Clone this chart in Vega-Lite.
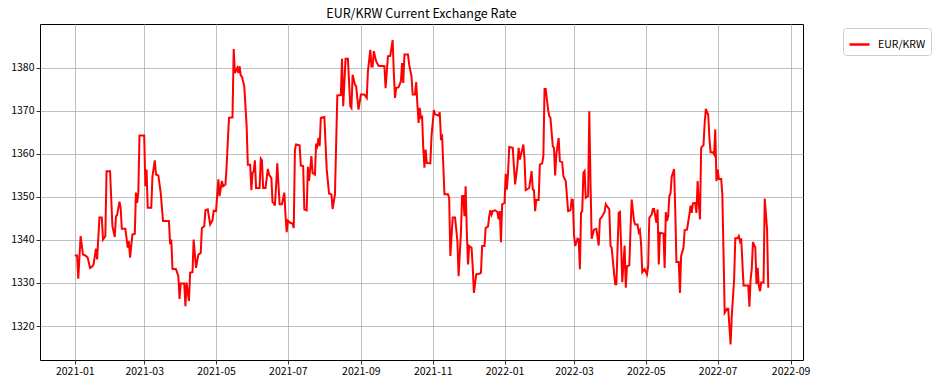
{
  "$schema": "https://vega.github.io/schema/vega-lite/v6.json",
  "width": 763,
  "height": 336,
  "autosize": {"type": "none"},
  "padding": {"left": 40, "top": 24, "right": 135, "bottom": 26},
  "background": "white",
  "title": {"text": "EUR/KRW Current Exchange Rate", "font": "Noto Sans CJK KR", "fontSize": 12.5, "fontWeight": "normal", "color": "black", "anchor": "middle", "offset": 4},
  "config": {
    "view": {"stroke": "black", "strokeWidth": 1},
    "axis": {"domain": false, "grid": true, "gridColor": "#b0b0b0", "gridWidth": 0.8, "tickColor": "black", "tickSize": 4, "tickWidth": 0.8, "labelFont": "Noto Sans CJK KR", "labelFontSize": 10.5, "labelColor": "black", "labelPadding": 2, "title": null}
  },
  "data": {"values": [
{"date":"2021-01-01","rate":1336.4},{"date":"2021-01-03","rate":1336.4},{"date":"2021-01-04","rate":1331.0},{"date":"2021-01-06","rate":1340.9},{"date":"2021-01-08","rate":1336.6},{"date":"2021-01-10","rate":1336.4},{"date":"2021-01-12","rate":1335.9},{"date":"2021-01-14","rate":1333.5},{"date":"2021-01-16","rate":1333.9},{"date":"2021-01-17","rate":1334.3},{"date":"2021-01-19","rate":1338.0},{"date":"2021-01-20","rate":1335.5},{"date":"2021-01-22","rate":1345.2},{"date":"2021-01-24","rate":1345.2},{"date":"2021-01-25","rate":1340.1},{"date":"2021-01-27","rate":1340.9},{"date":"2021-01-28","rate":1356.0},{"date":"2021-01-31","rate":1356.0},
{"date":"2021-02-02","rate":1343.2},{"date":"2021-02-04","rate":1340.7},{"date":"2021-02-05","rate":1345.5},{"date":"2021-02-06","rate":1345.8},{"date":"2021-02-08","rate":1348.9},{"date":"2021-02-09","rate":1347.5},{"date":"2021-02-10","rate":1342.6},{"date":"2021-02-13","rate":1342.6},{"date":"2021-02-15","rate":1338.2},{"date":"2021-02-16","rate":1339.7},{"date":"2021-02-17","rate":1335.9},{"date":"2021-02-19","rate":1341.3},{"date":"2021-02-21","rate":1341.4},{"date":"2021-02-22","rate":1351.0},{"date":"2021-02-23","rate":1348.6},{"date":"2021-02-24","rate":1351.0},{"date":"2021-02-25","rate":1364.3},
{"date":"2021-03-01","rate":1364.3},{"date":"2021-03-02","rate":1352.5},{"date":"2021-03-03","rate":1356.4},{"date":"2021-03-04","rate":1347.5},{"date":"2021-03-07","rate":1347.5},{"date":"2021-03-08","rate":1354.8},{"date":"2021-03-10","rate":1358.5},{"date":"2021-03-11","rate":1355.2},{"date":"2021-03-13","rate":1355.0},{"date":"2021-03-15","rate":1351.0},{"date":"2021-03-17","rate":1344.4},{"date":"2021-03-19","rate":1344.4},{"date":"2021-03-22","rate":1344.4},{"date":"2021-03-23","rate":1339.0},{"date":"2021-03-24","rate":1340.1},{"date":"2021-03-25","rate":1333.3},{"date":"2021-03-28","rate":1333.2},{"date":"2021-03-30","rate":1331.6},{"date":"2021-03-31","rate":1326.3},
{"date":"2021-04-01","rate":1329.9},{"date":"2021-04-04","rate":1329.9},{"date":"2021-04-05","rate":1324.6},{"date":"2021-04-06","rate":1330.1},{"date":"2021-04-08","rate":1325.8},{"date":"2021-04-09","rate":1332.4},{"date":"2021-04-11","rate":1332.5},{"date":"2021-04-12","rate":1340.1},{"date":"2021-04-14","rate":1333.5},{"date":"2021-04-16","rate":1336.6},{"date":"2021-04-18","rate":1337.0},{"date":"2021-04-19","rate":1342.8},{"date":"2021-04-21","rate":1343.2},{"date":"2021-04-22","rate":1346.9},{"date":"2021-04-24","rate":1347.1},{"date":"2021-04-26","rate":1343.6},{"date":"2021-04-28","rate":1344.6},{"date":"2021-04-29","rate":1346.8},
{"date":"2021-05-01","rate":1346.7},{"date":"2021-05-03","rate":1354.1},{"date":"2021-05-04","rate":1350.2},{"date":"2021-05-06","rate":1353.7},{"date":"2021-05-07","rate":1352.5},{"date":"2021-05-09","rate":1352.9},{"date":"2021-05-10","rate":1357.2},{"date":"2021-05-12","rate":1368.4},{"date":"2021-05-15","rate":1368.5},{"date":"2021-05-16","rate":1384.4},{"date":"2021-05-17","rate":1378.8},{"date":"2021-05-19","rate":1380.0},{"date":"2021-05-20","rate":1378.8},{"date":"2021-05-21","rate":1380.4},{"date":"2021-05-22","rate":1378.2},{"date":"2021-05-23","rate":1378.0},{"date":"2021-05-25","rate":1375.7},{"date":"2021-05-27","rate":1366.4},{"date":"2021-05-28","rate":1357.5},{"date":"2021-05-30","rate":1357.5},{"date":"2021-05-31","rate":1351.6},
{"date":"2021-06-01","rate":1355.6},{"date":"2021-06-02","rate":1356.0},{"date":"2021-06-03","rate":1358.5},{"date":"2021-06-04","rate":1352.1},{"date":"2021-06-07","rate":1352.1},{"date":"2021-06-08","rate":1358.9},{"date":"2021-06-09","rate":1358.5},{"date":"2021-06-10","rate":1352.1},{"date":"2021-06-12","rate":1352.1},{"date":"2021-06-14","rate":1356.5},{"date":"2021-06-15","rate":1355.2},{"date":"2021-06-17","rate":1354.4},{"date":"2021-06-18","rate":1348.8},{"date":"2021-06-19","rate":1348.6},{"date":"2021-06-20","rate":1348.0},{"date":"2021-06-21","rate":1352.5},{"date":"2021-06-22","rate":1357.8},{"date":"2021-06-24","rate":1348.3},{"date":"2021-06-26","rate":1348.3},{"date":"2021-06-28","rate":1351.0},{"date":"2021-06-29","rate":1345.7},{"date":"2021-06-30","rate":1341.8},
{"date":"2021-07-01","rate":1344.5},{"date":"2021-07-03","rate":1344.0},{"date":"2021-07-05","rate":1343.8},{"date":"2021-07-06","rate":1342.8},{"date":"2021-07-07","rate":1361.0},{"date":"2021-07-08","rate":1362.2},{"date":"2021-07-11","rate":1362.0},{"date":"2021-07-12","rate":1357.3},{"date":"2021-07-14","rate":1357.2},{"date":"2021-07-15","rate":1347.1},{"date":"2021-07-17","rate":1346.9},{"date":"2021-07-18","rate":1357.0},{"date":"2021-07-19","rate":1353.7},{"date":"2021-07-21","rate":1359.5},{"date":"2021-07-22","rate":1355.6},{"date":"2021-07-24","rate":1355.2},{"date":"2021-07-25","rate":1362.4},{"date":"2021-07-26","rate":1361.8},{"date":"2021-07-27","rate":1363.7},{"date":"2021-07-28","rate":1361.8},{"date":"2021-07-29","rate":1368.4},
{"date":"2021-08-01","rate":1368.6},{"date":"2021-08-03","rate":1356.4},{"date":"2021-08-05","rate":1350.8},{"date":"2021-08-07","rate":1350.6},{"date":"2021-08-08","rate":1347.2},{"date":"2021-08-10","rate":1350.6},{"date":"2021-08-12","rate":1373.6},{"date":"2021-08-15","rate":1373.7},{"date":"2021-08-16","rate":1382.1},{"date":"2021-08-17","rate":1371.1},{"date":"2021-08-19","rate":1382.1},{"date":"2021-08-21","rate":1382.1},{"date":"2021-08-23","rate":1371.1},{"date":"2021-08-24","rate":1370.7},{"date":"2021-08-25","rate":1378.4},{"date":"2021-08-27","rate":1376.1},{"date":"2021-08-28","rate":1375.7},{"date":"2021-08-30","rate":1370.3},
{"date":"2021-09-01","rate":1373.8},{"date":"2021-09-04","rate":1373.8},{"date":"2021-09-06","rate":1373.0},{"date":"2021-09-07","rate":1379.2},{"date":"2021-09-09","rate":1384.2},{"date":"2021-09-10","rate":1380.3},{"date":"2021-09-11","rate":1380.3},{"date":"2021-09-12","rate":1383.9},{"date":"2021-09-14","rate":1381.5},{"date":"2021-09-16","rate":1380.5},{"date":"2021-09-21","rate":1380.4},{"date":"2021-09-22","rate":1375.3},{"date":"2021-09-24","rate":1382.7},{"date":"2021-09-26","rate":1382.8},{"date":"2021-09-28","rate":1386.5},{"date":"2021-09-29","rate":1378.8},{"date":"2021-09-30","rate":1373.0},
{"date":"2021-10-01","rate":1375.3},{"date":"2021-10-03","rate":1375.5},{"date":"2021-10-05","rate":1376.9},{"date":"2021-10-06","rate":1381.1},{"date":"2021-10-07","rate":1376.5},{"date":"2021-10-08","rate":1383.1},{"date":"2021-10-11","rate":1383.1},{"date":"2021-10-12","rate":1380.8},{"date":"2021-10-14","rate":1378.0},{"date":"2021-10-15","rate":1373.8},{"date":"2021-10-17","rate":1373.8},{"date":"2021-10-18","rate":1376.7},{"date":"2021-10-19","rate":1371.5},{"date":"2021-10-20","rate":1367.2},{"date":"2021-10-21","rate":1370.7},{"date":"2021-10-22","rate":1368.4},{"date":"2021-10-23","rate":1368.6},{"date":"2021-10-24","rate":1361.4},{"date":"2021-10-25","rate":1356.8},{"date":"2021-10-26","rate":1361.0},{"date":"2021-10-27","rate":1357.9},{"date":"2021-10-30","rate":1357.8},{"date":"2021-10-31","rate":1364.1},
{"date":"2021-11-02","rate":1370.2},{"date":"2021-11-03","rate":1369.2},{"date":"2021-11-06","rate":1368.9},{"date":"2021-11-07","rate":1369.7},{"date":"2021-11-08","rate":1363.7},{"date":"2021-11-09","rate":1364.1},{"date":"2021-11-11","rate":1350.6},{"date":"2021-11-14","rate":1350.6},{"date":"2021-11-15","rate":1349.8},{"date":"2021-11-16","rate":1336.3},{"date":"2021-11-18","rate":1345.2},{"date":"2021-11-20","rate":1345.2},{"date":"2021-11-22","rate":1339.7},{"date":"2021-11-23","rate":1331.6},{"date":"2021-11-25","rate":1341.7},{"date":"2021-11-26","rate":1350.2},{"date":"2021-11-27","rate":1350.2},{"date":"2021-11-28","rate":1345.5},{"date":"2021-11-29","rate":1352.5},{"date":"2021-11-30","rate":1341.7},
{"date":"2021-12-01","rate":1334.3},{"date":"2021-12-02","rate":1338.6},{"date":"2021-12-04","rate":1338.2},{"date":"2021-12-05","rate":1333.9},{"date":"2021-12-06","rate":1327.7},{"date":"2021-12-08","rate":1332.0},{"date":"2021-12-11","rate":1332.2},{"date":"2021-12-12","rate":1332.4},{"date":"2021-12-13","rate":1338.6},{"date":"2021-12-15","rate":1338.6},{"date":"2021-12-16","rate":1342.8},{"date":"2021-12-18","rate":1343.1},{"date":"2021-12-19","rate":1345.5},{"date":"2021-12-20","rate":1346.9},{"date":"2021-12-21","rate":1345.9},{"date":"2021-12-22","rate":1346.7},{"date":"2021-12-24","rate":1346.9},{"date":"2021-12-26","rate":1346.5},{"date":"2021-12-27","rate":1344.8},{"date":"2021-12-28","rate":1346.7},{"date":"2021-12-29","rate":1339.5},{"date":"2021-12-30","rate":1348.3},
{"date":"2022-01-01","rate":1348.6},{"date":"2022-01-02","rate":1355.4},{"date":"2022-01-03","rate":1351.7},{"date":"2022-01-04","rate":1355.6},{"date":"2022-01-05","rate":1361.6},{"date":"2022-01-08","rate":1361.4},{"date":"2022-01-10","rate":1352.9},{"date":"2022-01-12","rate":1357.5},{"date":"2022-01-13","rate":1361.4},{"date":"2022-01-14","rate":1358.7},{"date":"2022-01-16","rate":1361.0},{"date":"2022-01-17","rate":1362.2},{"date":"2022-01-18","rate":1358.7},{"date":"2022-01-19","rate":1351.6},{"date":"2022-01-21","rate":1351.9},{"date":"2022-01-22","rate":1352.1},{"date":"2022-01-24","rate":1356.0},{"date":"2022-01-25","rate":1351.7},{"date":"2022-01-26","rate":1351.6},{"date":"2022-01-27","rate":1346.7},{"date":"2022-01-28","rate":1349.3},{"date":"2022-01-30","rate":1349.3},{"date":"2022-01-31","rate":1357.5},
{"date":"2022-02-02","rate":1357.8},{"date":"2022-02-03","rate":1359.5},{"date":"2022-02-04","rate":1375.1},{"date":"2022-02-05","rate":1375.1},{"date":"2022-02-07","rate":1370.3},{"date":"2022-02-08","rate":1368.8},{"date":"2022-02-09","rate":1368.4},{"date":"2022-02-11","rate":1361.8},{"date":"2022-02-12","rate":1361.4},{"date":"2022-02-13","rate":1355.0},{"date":"2022-02-14","rate":1359.9},{"date":"2022-02-16","rate":1363.7},{"date":"2022-02-17","rate":1358.3},{"date":"2022-02-19","rate":1358.1},{"date":"2022-02-20","rate":1354.8},{"date":"2022-02-22","rate":1353.7},{"date":"2022-02-24","rate":1346.7},{"date":"2022-02-26","rate":1346.9},{"date":"2022-02-27","rate":1349.4},{"date":"2022-02-28","rate":1349.3},
{"date":"2022-03-01","rate":1341.3},{"date":"2022-03-02","rate":1338.6},{"date":"2022-03-04","rate":1340.3},{"date":"2022-03-05","rate":1340.1},{"date":"2022-03-06","rate":1333.2},{"date":"2022-03-07","rate":1346.3},{"date":"2022-03-08","rate":1346.7},{"date":"2022-03-09","rate":1355.6},{"date":"2022-03-10","rate":1356.0},{"date":"2022-03-11","rate":1349.8},{"date":"2022-03-13","rate":1350.2},{"date":"2022-03-14","rate":1369.9},{"date":"2022-03-15","rate":1354.1},{"date":"2022-03-16","rate":1340.3},{"date":"2022-03-18","rate":1342.4},{"date":"2022-03-20","rate":1342.6},{"date":"2022-03-22","rate":1338.7},{"date":"2022-03-23","rate":1344.8},{"date":"2022-03-25","rate":1345.5},{"date":"2022-03-27","rate":1346.5},{"date":"2022-03-28","rate":1348.3},{"date":"2022-03-29","rate":1347.9},{"date":"2022-03-31","rate":1347.1},
{"date":"2022-04-01","rate":1338.6},{"date":"2022-04-02","rate":1338.2},{"date":"2022-04-04","rate":1332.4},{"date":"2022-04-05","rate":1329.7},{"date":"2022-04-06","rate":1329.7},{"date":"2022-04-08","rate":1346.3},{"date":"2022-04-09","rate":1346.5},{"date":"2022-04-10","rate":1339.0},{"date":"2022-04-11","rate":1330.2},{"date":"2022-04-13","rate":1338.7},{"date":"2022-04-14","rate":1328.9},{"date":"2022-04-15","rate":1333.9},{"date":"2022-04-17","rate":1334.1},{"date":"2022-04-18","rate":1342.4},{"date":"2022-04-19","rate":1349.4},{"date":"2022-04-21","rate":1344.4},{"date":"2022-04-22","rate":1343.6},{"date":"2022-04-24","rate":1343.6},{"date":"2022-04-25","rate":1341.8},{"date":"2022-04-26","rate":1342.3},{"date":"2022-04-27","rate":1339.0},{"date":"2022-04-28","rate":1332.5},{"date":"2022-04-30","rate":1333.2},
{"date":"2022-05-02","rate":1332.0},{"date":"2022-05-03","rate":1333.9},{"date":"2022-05-04","rate":1345.2},{"date":"2022-05-06","rate":1345.9},{"date":"2022-05-07","rate":1347.2},{"date":"2022-05-08","rate":1347.2},{"date":"2022-05-10","rate":1344.0},{"date":"2022-05-11","rate":1347.1},{"date":"2022-05-12","rate":1334.3},{"date":"2022-05-13","rate":1341.7},{"date":"2022-05-16","rate":1341.5},{"date":"2022-05-17","rate":1333.5},{"date":"2022-05-18","rate":1346.5},{"date":"2022-05-19","rate":1344.4},{"date":"2022-05-20","rate":1345.5},{"date":"2022-05-21","rate":1350.2},{"date":"2022-05-22","rate":1350.8},{"date":"2022-05-23","rate":1354.7},{"date":"2022-05-25","rate":1356.5},{"date":"2022-05-26","rate":1347.1},{"date":"2022-05-27","rate":1334.9},{"date":"2022-05-29","rate":1334.9},{"date":"2022-05-30","rate":1327.7},{"date":"2022-05-31","rate":1336.3},
{"date":"2022-06-02","rate":1338.2},{"date":"2022-06-03","rate":1342.3},{"date":"2022-06-05","rate":1342.4},{"date":"2022-06-07","rate":1345.9},{"date":"2022-06-08","rate":1348.0},{"date":"2022-06-09","rate":1346.3},{"date":"2022-06-10","rate":1348.5},{"date":"2022-06-12","rate":1348.6},{"date":"2022-06-13","rate":1346.3},{"date":"2022-06-14","rate":1353.7},{"date":"2022-06-15","rate":1348.6},{"date":"2022-06-16","rate":1344.8},{"date":"2022-06-17","rate":1361.4},{"date":"2022-06-18","rate":1361.8},{"date":"2022-06-19","rate":1362.0},{"date":"2022-06-20","rate":1367.2},{"date":"2022-06-21","rate":1370.5},{"date":"2022-06-23","rate":1369.1},{"date":"2022-06-24","rate":1363.7},{"date":"2022-06-25","rate":1360.4},{"date":"2022-06-27","rate":1360.4},{"date":"2022-06-28","rate":1359.9},{"date":"2022-06-29","rate":1365.7},{"date":"2022-06-30","rate":1353.7},
{"date":"2022-07-01","rate":1356.4},{"date":"2022-07-02","rate":1354.2},{"date":"2022-07-04","rate":1354.2},{"date":"2022-07-05","rate":1350.6},{"date":"2022-07-06","rate":1337.0},{"date":"2022-07-07","rate":1323.1},{"date":"2022-07-09","rate":1324.0},{"date":"2022-07-10","rate":1324.0},{"date":"2022-07-12","rate":1315.7},{"date":"2022-07-13","rate":1322.3},{"date":"2022-07-15","rate":1330.8},{"date":"2022-07-16","rate":1340.4},{"date":"2022-07-18","rate":1340.4},{"date":"2022-07-19","rate":1340.9},{"date":"2022-07-20","rate":1339.7},{"date":"2022-07-21","rate":1340.4},{"date":"2022-07-23","rate":1329.4},{"date":"2022-07-27","rate":1329.4},{"date":"2022-07-28","rate":1324.5},{"date":"2022-07-29","rate":1330.8},{"date":"2022-07-30","rate":1333.3},{"date":"2022-07-31","rate":1339.5},
{"date":"2022-08-02","rate":1338.2},{"date":"2022-08-03","rate":1329.7},{"date":"2022-08-04","rate":1333.5},{"date":"2022-08-05","rate":1329.3},{"date":"2022-08-06","rate":1328.1},{"date":"2022-08-07","rate":1330.1},{"date":"2022-08-09","rate":1330.1},{"date":"2022-08-10","rate":1349.6},{"date":"2022-08-12","rate":1342.4},{"date":"2022-08-13","rate":1328.9}
  ]},
  "mark": {"type": "line", "strokeWidth": 2, "clip": true},
  "encoding": {
    "x": {"field": "date", "type": "temporal",
      "scale": {"type": "utc", "domain": [{"year": 2020, "month": 12, "date": 2, "hours": 12, "utc": true}, {"year": 2022, "month": 9, "date": 11, "hours": 12, "utc": true}], "nice": false},
      "axis": {"labelExpr": "utcFormat(datum.value, '%Y-%m')", "values": [
        {"year": 2021, "month": 1, "date": 1, "utc": true}, {"year": 2021, "month": 3, "date": 1, "utc": true}, {"year": 2021, "month": 5, "date": 1, "utc": true}, {"year": 2021, "month": 7, "date": 1, "utc": true}, {"year": 2021, "month": 9, "date": 1, "utc": true}, {"year": 2021, "month": 11, "date": 1, "utc": true}, {"year": 2022, "month": 1, "date": 1, "utc": true}, {"year": 2022, "month": 3, "date": 1, "utc": true}, {"year": 2022, "month": 5, "date": 1, "utc": true}, {"year": 2022, "month": 7, "date": 1, "utc": true}, {"year": 2022, "month": 9, "date": 1, "utc": true}]}},
    "y": {"field": "rate", "type": "quantitative",
      "scale": {"domain": [1312.1, 1390.2], "nice": false, "zero": false},
      "axis": {"format": "d", "values": [1320, 1330, 1340, 1350, 1360, 1370, 1380]}},
    "color": {"datum": "EUR/KRW", "type": "nominal",
      "scale": {"range": ["#ff0000"]},
      "legend": {"title": null, "orient": "none", "legendX": 803, "legendY": 4, "symbolType": "stroke", "symbolSize": 400, "symbolStrokeWidth": 2.5, "labelFont": "Noto Sans CJK KR", "labelFontSize": 10.5, "labelColor": "black", "padding": 5, "strokeColor": "#cccccc", "fillColor": "white", "cornerRadius": 3, "labelOffset": 7}}
  }
}
